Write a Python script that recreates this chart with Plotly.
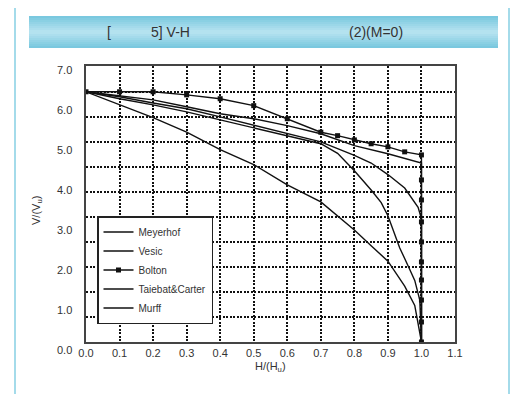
import plotly.graph_objects as go

# ---------------- data ----------------
H_meyerhof = [0, 0.1, 0.2, 0.3, 0.4, 0.5, 0.6, 0.7, 0.8, 0.85, 0.9, 0.95, 0.98, 1.0]
V_meyerhof = [6.5, 6.17, 5.83, 5.45, 5.0, 4.61, 4.08, 3.64, 2.91, 2.5, 2.1, 1.45, 0.95, 0.0]

H_vesic = [0, 0.1, 0.2, 0.3, 0.4, 0.5, 0.6, 0.7, 0.75, 0.8, 0.85, 0.88, 0.9, 0.92, 0.935, 0.96, 0.98, 0.995, 0.998, 1.0]
V_vesic = [6.5, 6.32, 6.16, 5.98, 5.77, 5.56, 5.36, 5.15, 4.9, 4.45, 3.95, 3.62, 3.28, 2.8, 2.45, 1.98, 1.6, 1.09, 0.6, 0.0]

H_bolton = [0, 0.1, 0.2, 0.3, 0.4, 0.5, 0.6, 0.7, 0.75, 0.8, 0.85, 0.9, 0.95, 1.0,
            1.0, 1.0, 1.0, 1.0, 1.0, 1.0, 1.0, 1.0, 1.0]
V_bolton = [6.5, 6.5, 6.5, 6.42, 6.32, 6.14, 5.8, 5.45, 5.36, 5.25, 5.15, 5.07, 4.94, 4.86,
            4.21, 3.69, 3.12, 2.60, 2.08, 1.61, 1.09, 0.52, 0.0]

H_taiebat = [0, 0.1, 0.2, 0.3, 0.4, 0.5, 0.6, 0.7, 0.8, 0.9, 1.0, 1.0]
V_taiebat = [6.5, 6.40, 6.29, 6.11, 5.93, 5.80, 5.62, 5.41, 5.10, 4.89, 4.65, 0.0]

H_murff = [0, 0.1, 0.2, 0.3, 0.4, 0.5, 0.6, 0.7, 0.8, 0.85, 0.9, 0.95, 0.99, 1.0, 1.0]
V_murff = [6.5, 6.37, 6.21, 6.06, 5.85, 5.64, 5.43, 5.2, 4.85, 4.65, 4.35, 4.0, 3.5, 3.2, 0.0]

y_tick_labels = ["0.0", "1.0", "2.0", "3.0", "4.0", "5.0", "6.0", "7.0"]

# ---------------- layout geometry (screen pixels) ----------------
OFF = 8                      # default page body margin
SW, SH = 522, 394            # screen size
W, Hh = SW - OFF, SH - OFF   # figure size
L, R, T, B = 86, 455, 66, 342  # plot area in screen pixels
PW, PH = R - L, B - T


def px(x):
    return (x - L) / PW


def py(y):
    return (B - y) / PH


FONT = "Liberation Sans, Arial, sans-serif"
TXT = "#333333"

fig = go.Figure()
line_style = dict(color="#111111", width=1.4)
fig.add_trace(go.Scatter(x=H_meyerhof, y=V_meyerhof, mode="lines", name="Meyerhof", line=line_style))
fig.add_trace(go.Scatter(x=H_vesic, y=V_vesic, mode="lines", name="Vesic", line=line_style))
fig.add_trace(go.Scatter(x=H_bolton, y=V_bolton, mode="lines+markers", name="Bolton", line=line_style,
                         marker=dict(symbol="square", size=5, color="#111111")))
fig.add_trace(go.Scatter(x=H_taiebat, y=V_taiebat, mode="lines", name="Taiebat&Carter", line=line_style))
fig.add_trace(go.Scatter(x=H_murff, y=V_murff, mode="lines", name="Murff", line=line_style))

grid = dict(showgrid=True, gridcolor="#111111", gridwidth=1.6, griddash="2px,1.5px",
            showline=True, mirror=True, linecolor="#444444", linewidth=2,
            zeroline=False, ticks="")

fig.update_xaxes(range=[0, 1.1], tick0=0, dtick=0.1, tickformat=".1f",
                 tickfont=dict(family=FONT, size=11, color=TXT), **grid)
fig.update_yaxes(range=[0, 7.17], tick0=0, dtick=0.65, showticklabels=False, **grid)

annotations = []
# y tick labels (placed as they appear on the scanned figure)
for k, lab in enumerate(y_tick_labels):
    annotations.append(dict(text=lab, xref="paper", yref="paper", x=px(74), y=py(350 - 40 * k),
                            xanchor="right", yanchor="middle", showarrow=False,
                            font=dict(family=FONT, size=11, color=TXT)))
# axis titles
annotations.append(dict(text="H/(H<sub>u</sub>)", xref="paper", yref="paper", x=px(270), y=py(367),
                        xanchor="center", yanchor="middle", showarrow=False,
                        font=dict(family=FONT, size=11, color=TXT)))
annotations.append(dict(text="V/(V<sub>u</sub>)", xref="paper", yref="paper", x=px(37), y=py(211),
                        xanchor="center", yanchor="middle", showarrow=False, textangle=-90,
                        font=dict(family=FONT, size=11, color=TXT)))
# title pieces
for txt, xpos in [("[", 105), ("5] V-H", 149), ("(2)(M=0)", 347)]:
    annotations.append(dict(text=txt, xref="paper", yref="paper", x=px(xpos), y=py(32),
                            xanchor="left", yanchor="middle", showarrow=False,
                            font=dict(family=FONT, size=14, color=TXT)))

shapes = []
# outer light-blue frame
shapes.append(dict(type="rect", xref="paper", yref="paper", x0=px(15), x1=px(509), y0=py(410), y1=py(5),
                   line=dict(color="#86cfe4", width=1.5), fillcolor="rgba(0,0,0,0)", layer="below"))
# gradient title band
n = 16
top, bot = 16, 48
c_edge = (118, 199, 222)
c_mid = (185, 228, 241)
for i in range(n):
    y0 = top + (bot - top) * i / n
    y1 = top + (bot - top) * (i + 1) / n
    t = abs((i + 0.5) / n - 0.5) * 2  # 0 centre, 1 edge
    c = tuple(int(c_mid[j] + (c_edge[j] - c_mid[j]) * t) for j in range(3))
    shapes.append(dict(type="rect", xref="paper", yref="paper", x0=px(29), x1=px(498),
                       y0=py(y1), y1=py(y0), line=dict(width=0),
                       fillcolor="rgb(%d,%d,%d)" % c, layer="below"))

fig.update_layout(
    width=W, height=Hh,
    margin=dict(l=L - OFF, r=SW - R, t=T - OFF, b=SH - B, pad=0),
    paper_bgcolor="white", plot_bgcolor="white",
    annotations=annotations, shapes=shapes,
    showlegend=True,
    legend=dict(x=px(97), y=py(216), xanchor="left", yanchor="top",
                bgcolor="white", bordercolor="#222222", borderwidth=1.5,
                font=dict(family=FONT, size=10, color=TXT), itemwidth=30,
                tracegroupgap=0),
)

fig.write_html("out.html")
